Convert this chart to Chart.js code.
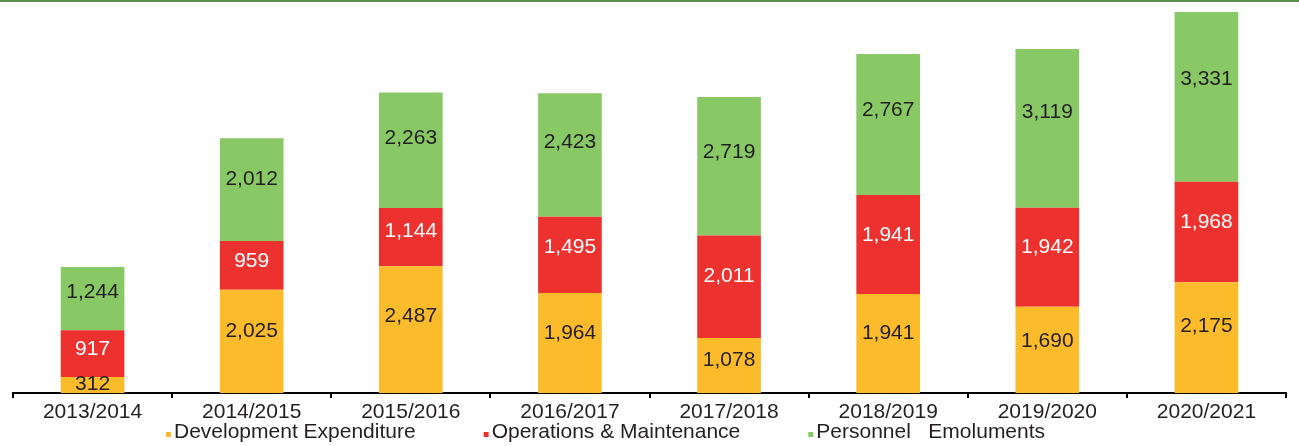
<!DOCTYPE html>
<html>
<head>
<meta charset="utf-8">
<script src="https://cdn.jsdelivr.net/npm/chart.js@4/dist/chart.umd.min.js"></script>
<style>
  html, body { margin: 0; padding: 0; background: #fff; }
  #wrap { position: relative; width: 1299px; height: 446px; }
</style>
</head>
<body>
<div id="wrap"><canvas id="budgetChart"></canvas></div>
<script>
// datos
const years = ['2013/2014', '2014/2015', '2015/2016', '2016/2017', '2017/2018', '2018/2019', '2019/2020', '2020/2021'];
const development = [312, 2025, 2487, 1964, 1078, 1941, 1690, 2175];
const operations = [917, 959, 1144, 1495, 2011, 1941, 1942, 1968];
const personnel = [1244, 2012, 2263, 2423, 2719, 2767, 3119, 3331];
const seriesNames = ['Development Expenditure', 'Operations & Maintenance', 'Personnel   Emoluments'];

const fontFamily = "'Liberation Sans', Arial, sans-serif";

// etiquetas dentro de cada segmento (algo por encima del centro, como en el original)
const segmentLabels = {
    id: 'segmentLabels',
    afterDatasetsDraw(chart) {
        const ctx = chart.ctx;
        ctx.save();
        ctx.font = '21px ' + fontFamily;
        ctx.textAlign = 'center';
        ctx.textBaseline = 'middle';
        chart.data.datasets.forEach((ds, i) => {
            const meta = chart.getDatasetMeta(i);
            meta.data.forEach((bar, j) => {
                const p = bar.getProps(['x', 'y', 'base'], true);
                const h = p.base - p.y;
                ctx.fillStyle = ds.labelColor;
                ctx.fillText(ds.data[j].toLocaleString('en-US'), p.x, p.y + h / 2 - h * 0.11 + 1);
            });
        });
        ctx.restore();
    }
};

// leyenda propia, marcador pequeño pegado al texto
const smallLegend = {
    id: 'smallLegend',
    afterDraw(chart) {
        const ctx = chart.ctx;
        ctx.save();
        ctx.font = '21px ' + fontFamily;
        ctx.textBaseline = 'alphabetic';
        let x = 166;
        const baseline = 438;
        chart.data.datasets.forEach((ds) => {
            ctx.fillStyle = ds.backgroundColor;
            ctx.fillRect(x, baseline - 6, 5, 5);
            ctx.fillStyle = '#231f20';
            ctx.fillText(ds.label, x + 8, baseline);
            x += 8 + ctx.measureText(ds.label).width + 68;
        });
        ctx.restore();
    }
};

// linea verde superior (resto del encabezado)
const topRule = {
    id: 'topRule',
    beforeDraw(chart) {
        const ctx = chart.ctx;
        ctx.save();
        ctx.fillStyle = '#5e8c4c';
        ctx.fillRect(0, 0, chart.width, 2);
        ctx.restore();
    }
};

new Chart(document.getElementById('budgetChart'), {
    type: 'bar',
    data: {
        labels: years,
        datasets: [
            { label: seriesNames[0], data: development, backgroundColor: '#fcbb2b', labelColor: '#231f20' },
            { label: seriesNames[1], data: operations, backgroundColor: '#ed312e', labelColor: '#ffffff' },
            { label: seriesNames[2], data: personnel, backgroundColor: '#88c865', labelColor: '#231f20' }
        ]
    },
    options: {
        responsive: true,
        maintainAspectRatio: false,
        animation: false,
        datasets: {
            bar: {
                barPercentage: 0.4,
                categoryPercentage: 1,
                borderWidth: 0
            }
        },
        layout: {
            padding: { left: 13, right: 13, top: 3, bottom: 0 }
        },
        plugins: {
            legend: { display: false },
            tooltip: { enabled: false }
        },
        scales: {
            x: {
                stacked: true,
                afterFit(scale) { scale.height = 53; },
                border: { color: '#000', width: 2 },
                grid: {
                    offset: true,
                    drawOnChartArea: false,
                    color: '#000',
                    lineWidth: 2,
                    tickLength: 5
                },
                ticks: {
                    color: '#231f20',
                    padding: 2,
                    font: { family: fontFamily, size: 21 }
                }
            },
            y: {
                stacked: true,
                display: false,
                min: 0,
                max: 7651
            }
        }
    },
    plugins: [topRule, segmentLabels, smallLegend]
});
</script>
</body>
</html>
